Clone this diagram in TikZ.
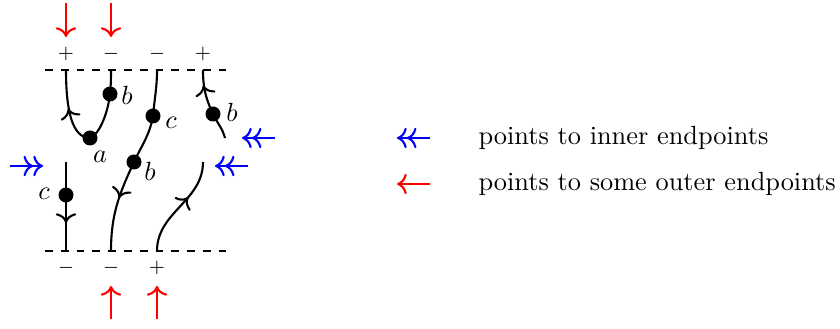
\documentclass[tikz,border=0pt]{standalone}
\usetikzlibrary{decorations.markings,arrows.meta}
\begin{document}
\begin{tikzpicture}[x=0.38pt,y=-0.38pt,>={To[scale=1.1]},
  strand/.style={thick},
  bnd/.style={thick,dashed},
  pt/.style={circle,fill=black,inner sep=0pt,minimum size=5.7pt},
  lab/.style={inner sep=1pt,font=\normalsize},
  sgn/.style={inner sep=0pt,font=\scriptsize},
  outer/.style={red,thick,->},
  inner/.style={blue,thick,->>},
  midarrow/.style={postaction={decorate},decoration={markings,mark=at position #1 with {\arrow{>}}}},
  midrev/.style={postaction={decorate},decoration={markings,mark=at position #1 with {\arrow{<}}}}
]
\useasboundingbox (0,0) rectangle (840,329);
% boundaries
\coordinate (tl) at (45,70); \coordinate (tr) at (226,70);
\coordinate (bl) at (45,251); \coordinate (br) at (226,251);
\draw[bnd] (tl) -- (tr);
\draw[bnd] (bl) -- (br);
% endpoints
\coordinate (t1) at (66,70); \coordinate (t2) at (111,70);
\coordinate (t3) at (157,70); \coordinate (t4) at (203,70);
\coordinate (b1) at (66,251); \coordinate (b2) at (111,251); \coordinate (b3) at (157,251);
\node[sgn] (s1) at (66,54) {$+$};
\node[sgn] (s2) at (111,54) {$-$};
\node[sgn] (s3) at (157,54) {$-$};
\node[sgn] (s4) at (203,54) {$+$};
\node[sgn] (u1) at (66,268) {$-$};
\node[sgn] (u2) at (111,268) {$-$};
\node[sgn] (u3) at (157,268) {$+$};
% dots
\node[pt] (da) at (90,138) {};
\node[pt] (db1) at (110,94) {};
\node[pt] (dc1) at (153,116) {};
\node[pt] (db2) at (134,162) {};
\node[pt] (db3) at (213,114) {};
\node[pt] (dc2) at (66,195) {};
% labels
\node[lab] (la) at (100,157) {$a$};
\node[lab] (lb1) at (127,95) {$b$};
\node[lab] (lc1) at (171,123) {$c$};
\node[lab] (lb2) at (150,171) {$b$};
\node[lab] (lb3) at (232,112) {$b$};
\node[lab] (lc2) at (44,194) {$c$};
% strands
\draw[strand,midrev=0.62] (t1) .. controls (66,110) and (72,138) .. (da.center);
\draw[strand] (da.center) .. controls (100,134) and (108,112) .. (db1.center) .. controls (111,85) and (111,75) .. (t2);
\draw[strand] (t3) to[out=-90,in=85] (dc1.center) to[out=-100,in=65] (db2.center);
\draw[strand,midarrow=0.42] (db2.center) to[out=-115,in=90] (b2);
\draw[strand,midrev=0.55] (t4) to[out=-90,in=115] (db3.center);
\coordinate (e3) at (225,138);
\draw[strand] (db3.center) to[out=-65,in=105] (e3);
\coordinate (e4) at (66,162);
\draw[strand] (e4) -- (dc2.center);
\draw[strand,midarrow=0.5] (dc2.center) -- (b1);
\coordinate (e5) at (203,162);
\draw[strand,midarrow=0.62] (b3) to[out=90,in=-90] (e5);
% red arrows
\coordinate (r1s) at (66,3); \coordinate (r1e) at (66,37);
\coordinate (r2s) at (111,3); \coordinate (r2e) at (111,37);
\coordinate (r3s) at (111,319); \coordinate (r3e) at (111,286);
\coordinate (r4s) at (157,319); \coordinate (r4e) at (157,286);
\draw[outer] (r1s) -- (r1e);
\draw[outer] (r2s) -- (r2e);
\draw[outer] (r3s) -- (r3e);
\draw[outer] (r4s) -- (r4e);
% blue arrows
\coordinate (p1s) at (10,166); \coordinate (p1e) at (43,166);
\coordinate (p2s) at (275,138); \coordinate (p2e) at (242,138);
\coordinate (p3s) at (248,166); \coordinate (p3e) at (215,166);
\draw[inner] (p1s) -- (p1e);
\draw[inner] (p2s) -- (p2e);
\draw[inner] (p3s) -- (p3e);
% legend
\coordinate (k1s) at (430,138); \coordinate (k1e) at (397,138);
\coordinate (k2s) at (430,184); \coordinate (k2e) at (397,184);
\draw[inner] (k1s) -- (k1e);
\draw[outer] (k2s) -- (k2e);
\node[anchor=west,inner sep=0pt] (t1l) at (478,138) {points to inner endpoints};
\node[anchor=west,inner sep=0pt] (t2l) at (478,184) {points to some outer endpoints};
\end{tikzpicture}
\end{document}
